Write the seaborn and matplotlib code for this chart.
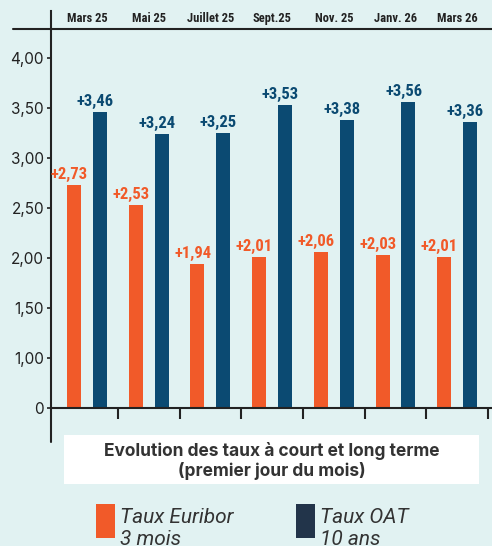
import matplotlib
matplotlib.use("Agg")
import matplotlib.pyplot as plt
import seaborn as sns
import pandas as pd
from matplotlib.lines import Line2D
from matplotlib.patches import Rectangle
from matplotlib import font_manager as fm

months = ["Mars 25", "Mai 25", "Juillet 25", "Sept.25", "Nov. 25", "Janv. 26", "Mars 26"]
euribor = [2.73, 2.53, 1.94, 2.01, 2.06, 2.03, 2.01]
oat = [3.46, 3.24, 3.25, 3.53, 3.38, 3.56, 3.36]
series = ["Taux Euribor\n3 mois", "Taux OAT\n10 ans"]
ytick_vals = [0.5, 1.0, 1.5, 2.0, 2.5, 3.0, 3.5, 4.0]
ytick_labels = ["0", "1,00", "1,50", "2,00", "2,50", "3,00", "3,50", "4,00"]
title = "Evolution des taux à court et long terme\n(premier jour du mois)"

ORANGE = "#f15a29"
NAVY = "#0b4a72"
NAVY_LEG = "#22344a"
BG = "#e1f2f2"
DARK = "#222222"

df = pd.DataFrame({
    "mois": months * 2,
    "serie": [series[0]] * len(months) + [series[1]] * len(months),
    "taux": euribor + oat,
})

sns.set_theme(style="white")
plt.rcParams["font.family"] = ["Inter", "Roboto", "DejaVu Sans"]

# pick a condensed font if one is installed
names = {f.name for f in fm.fontManager.ttflist}
cond_stretch = {(f.name, f.stretch) for f in fm.fontManager.ttflist}
cond_family = None
cond_kw = {}
for cand in ["Roboto Condensed", "Liberation Sans Narrow", "Open Sans Condensed",
             "Noto Sans Condensed", "DejaVu Sans Condensed"]:
    if cand in names:
        cond_family = cand
        break
if cond_family is None:
    for (n, s) in cond_stretch:
        if s in ("condensed", "semi-condensed", "extra-condensed", 75, 87) or "Condensed" in n or "Narrow" in n:
            cond_family = n
            cond_kw = {"fontstretch": s}
            break
if cond_family is None:
    cond_family = "Roboto"
    shrink = 0.82
else:
    shrink = 1.0
cond = [cond_family, "DejaVu Sans"]

W, H = 492, 546
fig = plt.figure(figsize=(W / 100, H / 100), dpi=100, facecolor=BG)

def fx(px):
    return px / W

def fy(py):
    return 1 - py / H

ax = fig.add_axes([fx(51), fy(408), fx(492) - fx(51), fy(11) - fy(408)])
ax.set_facecolor(BG)

sns.barplot(data=df, x="mois", y="taux", hue="serie", order=months,
            hue_order=series, palette=[ORANGE, NAVY], width=0.84, gap=0.46,
            saturation=1, linewidth=0, ax=ax, legend=True)

ax.set_xlim(-0.583, 6.564)
ax.set_ylim(0.5, 4.47)

for cont, vals, col in zip(ax.containers, [euribor, oat], [ORANGE, NAVY]):
    labs = ["+" + f"{v:.2f}".replace(".", ",") for v in vals]
    texts = ax.bar_label(cont, labels=labs, padding=2, color=col,
                         fontsize=12 * shrink, fontweight="bold", family=cond, **cond_kw)
    for t in texts:
        t.xyann = (-3.5, 2.5)

# y axis
ax.set_yticks(ytick_vals)
ax.set_yticklabels(ytick_labels, fontsize=11, color=DARK)
ax.tick_params(axis="y", length=3, width=1.2, color=DARK, pad=2, left=True)

# x axis bottom ticks between groups
ax.set_xticks([k + 0.5 for k in range(len(months))])
ax.set_xticklabels([])
ax.tick_params(axis="x", length=8, width=1.5, color=DARK, direction="out", bottom=True)
ax.set_xlabel("")
ax.set_ylabel("")

for s in ["top", "right"]:
    ax.spines[s].set_visible(False)
for s in ["left", "bottom"]:
    ax.spines[s].set_color(DARK)
    ax.spines[s].set_linewidth(1.5)

# category labels on top
sec = ax.secondary_xaxis((408 - 29) / 397)
sec.set_xticks(range(len(months)))
sec.set_xticklabels(months, fontsize=9 * shrink, fontweight="bold", family=cond,
                    color=DARK, **cond_kw)
sec.tick_params(axis="x", length=0, pad=3)
for s in sec.spines.values():
    s.set_visible(False)

# extra lines
fig.add_artist(Line2D([fx(13), fx(492)], [fy(29), fy(29)], color=DARK, lw=1.5))
fig.add_artist(Line2D([fx(51), fx(51)], [fy(408), fy(442)], color=DARK, lw=1.5))

# title box
fig.add_artist(Rectangle((fx(64), fy(484)), fx(479) - fx(64), fy(435) - fy(484),
                         facecolor="white", edgecolor="none"))
fig.text(fx(272), fy(461), title, ha="center", va="center", fontsize=12.5,
         fontweight="bold", color="#333333", linespacing=1.2)

# legend
handles, labels = ax.get_legend_handles_labels()
ax.get_legend().remove()
leg = fig.legend(handles, labels, loc="upper left", bbox_to_anchor=(fx(96), fy(508)),
                 ncol=2, frameon=False, handlelength=0.91, handleheight=2.13,
                 handletextpad=0.25, columnspacing=3.0, borderaxespad=0, borderpad=0,
                 prop={"size": 15, "style": "italic", "family": ["Roboto", "DejaVu Sans"]},
                 labelcolor="#333333")
leg.legend_handles[1].set_facecolor(NAVY_LEG)
for hp in leg.legend_handles:
    hp.set_y(hp.get_y() + 5.8)

fig.savefig("out.png", dpi=100, facecolor=BG)
